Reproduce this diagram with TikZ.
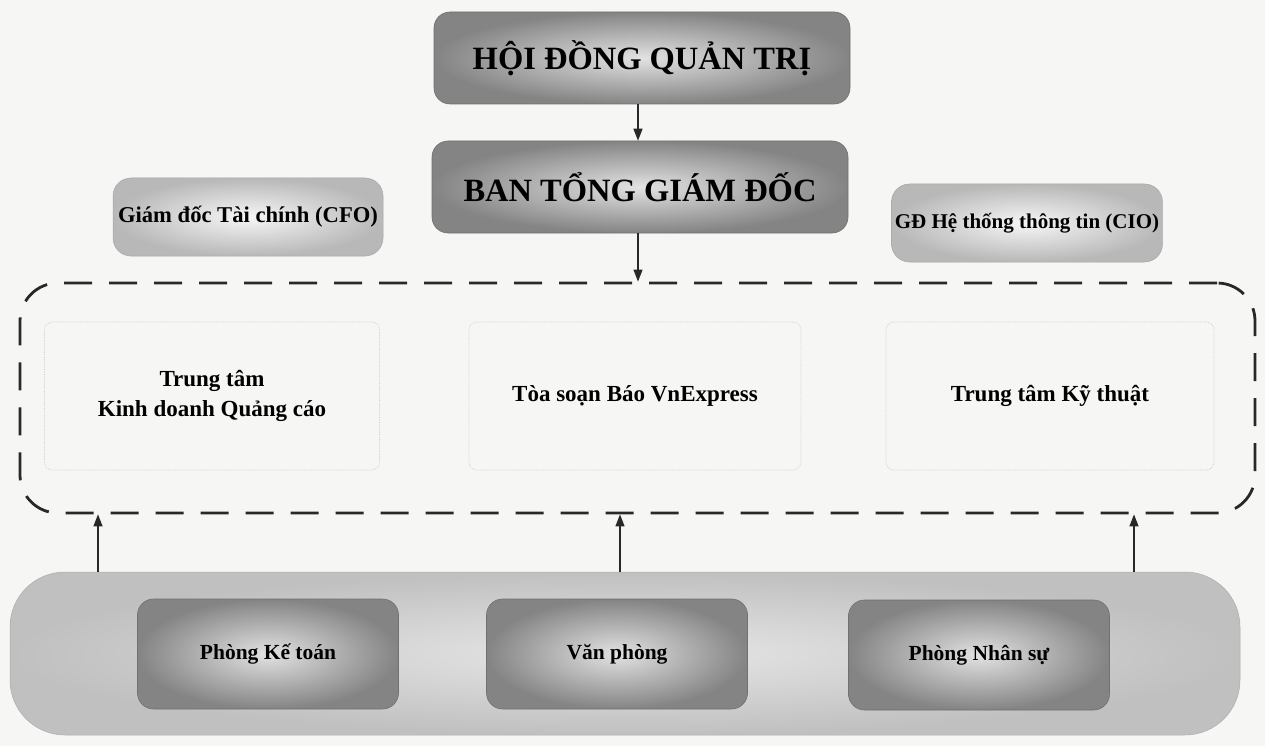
\documentclass[tikz,border=0pt]{standalone}
\usepackage{fontspec}
\setmainfont{Liberation Serif}
\usetikzlibrary{arrows.meta}
\definecolor{bgc}{RGB}{246,246,244}
\definecolor{darkout}{RGB}{132,132,132}
\definecolor{darkin}{RGB}{226,226,226}
\definecolor{lightout}{RGB}{184,184,184}
\definecolor{lightin}{RGB}{246,246,246}
\definecolor{barout}{RGB}{192,192,192}
\definecolor{barin}{RGB}{230,230,230}
\definecolor{lnc}{RGB}{40,40,40}
\begin{document}
\begin{tikzpicture}[x=1pt,y=-1pt,
  darkbox/.style={rounded corners=16pt, inner color=darkin, outer color=darkout,
    draw=darkout!85!black, line width=0.6pt, text=black},
  topbox/.style={darkbox, minimum width=416pt, minimum height=92pt,
    font=\fontsize{32.5}{36}\selectfont\bfseries},
  sidebox/.style={rounded corners=18pt, inner color=lightin, outer color=lightout,
    draw=lightout!90!black, line width=0.5pt, minimum width=270pt, minimum height=78pt},
  group/.style={draw=lnc, line width=2.8pt, dash pattern=on 28pt off 17pt,
    rounded corners=38pt, minimum width=1235pt, minimum height=230pt},
  unitbox/.style={draw=gray!40, densely dotted, line width=0.7pt, rounded corners=8pt,
    minimum width=332pt, minimum height=148pt, align=center,
    font=\fontsize{23}{30}\selectfont\bfseries},
  barbox/.style={rounded corners=55pt, inner color=barin, outer color=barout,
    draw=barout!90!black, line width=0.5pt, minimum width=1230pt, minimum height=163pt},
  deptbox/.style={darkbox, minimum width=261pt, minimum height=110pt,
    font=\fontsize{21.5}{26}\selectfont\bfseries},
  arr/.style={draw=lnc, line width=1.3pt, -{Triangle[length=12pt,width=9pt]}}
]
\useasboundingbox (0,0) rectangle (1265,746);
\fill[bgc] (0,0) rectangle (1265,746);

\node[topbox] (hdqt) at (642,58) {HỘI ĐỒNG QUẢN TRỊ};
\node[topbox] (btgd) at (640,187) {BAN TỔNG GIÁM ĐỐC};

\node[sidebox, font=\fontsize{22.6}{26}\selectfont\bfseries] (cfo) at (248,217) {Giám đốc Tài chính (CFO)};
\node[sidebox, font=\fontsize{21}{26}\selectfont\bfseries] (cio) at (1027,223) {GĐ Hệ thống thông tin (CIO)};

\node[group] (grp) at (637.5,398) {};
\node[unitbox, minimum width=335pt] (kd) at (212,396) {Trung tâm\\Kinh doanh Quảng cáo};
\node[unitbox] (ts) at (635,396) {Tòa soạn Báo VnExpress};
\node[unitbox, minimum width=328pt] (kt) at (1050,396) {Trung tâm Kỹ thuật};

\node[barbox] (bar) at (625,653.5) {};
\node[deptbox] (pkt) at (268,654) {Phòng Kế toán};
\node[deptbox] (vp) at (617,654) {Văn phòng};
\node[deptbox] (pns) at (979,655) {Phòng Nhân sự};

\coordinate (ax1) at (98,0);
\coordinate (ax2) at (620,0);
\coordinate (ax3) at (1134,0);
\coordinate (ax0) at (638,0);

\draw[arr] (ax0 |- hdqt.south) -- (ax0 |- btgd.north);
\draw[arr] (ax0 |- btgd.south) -- (ax0 |- grp.north);
\draw[arr] (ax1 |- bar.north) -- (ax1 |- grp.south);
\draw[arr] (ax2 |- bar.north) -- (ax2 |- grp.south);
\draw[arr] (ax3 |- bar.north) -- (ax3 |- grp.south);
\end{tikzpicture}
\end{document}
